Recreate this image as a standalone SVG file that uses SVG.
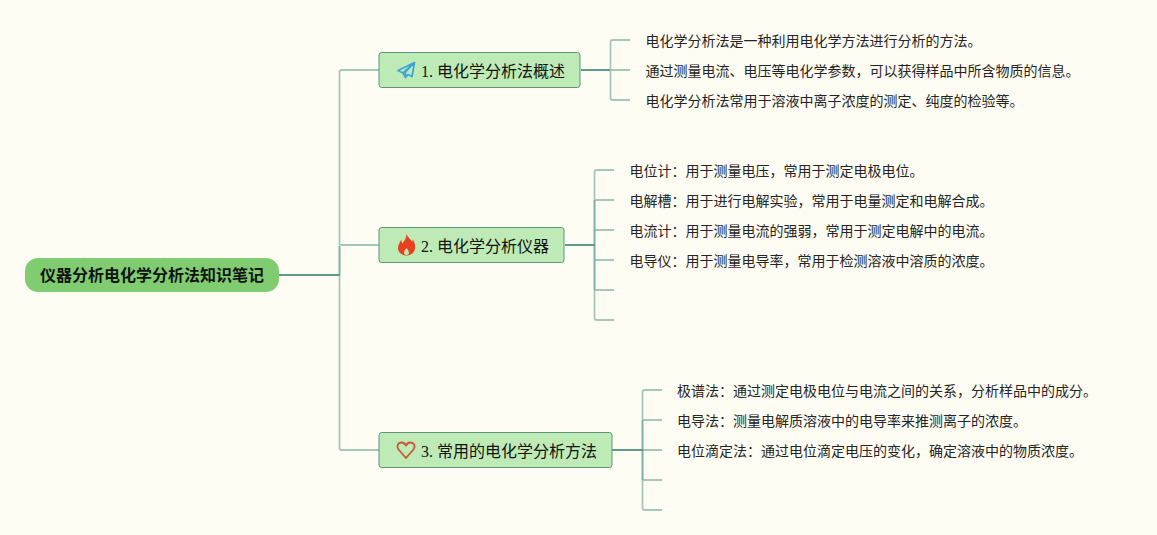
<svg xmlns="http://www.w3.org/2000/svg" width="1157" height="535" viewBox="0 0 1157 535">
<style>
text{font-family:"Liberation Serif","Noto Sans CJK SC",serif;fill:#111;opacity:.99}
.r{font-size:16px;font-weight:700;font-family:"Liberation Sans","Noto Sans CJK SC",sans-serif}
.b{font-size:16px}
.l{font-size:14px;fill:#222}
.box{fill:#bdeab5;stroke:#5c9580;stroke-width:1}
path.c{fill:none;stroke-linejoin:round}
.d{stroke:#5f9a8f;stroke-width:2}
.m{stroke:#80b0a2;stroke-width:2}
.f{stroke:#a5c7ba;stroke-width:1.800}
</style>
<rect width="1157" height="535" fill="#fffdf3"/>
<g id="connectors">
<path class="c f" d="M339.500 245V72Q339.500 70 342 70H379M339.500 245H379M339.500 275V448Q339.500 450 342 450H379"/>
<path class="c m" d="M339.500 246V275"/>
<path class="c d" d="M279 275H340"/>
<path class="c f" d="M610.500 70V42Q610.500 40 613 40H630M610 70H630M610.500 70V98Q610.500 100 613 100H630"/>
<path class="c d" d="M581 70H610"/>
<path class="c f" d="M594.500 200V172Q594.500 170 597 170H614M594.500 200H614M594.500 230H614M594.500 260H614M594.500 290H614M594.500 290V318Q594.500 320 597 320H614"/>
<path class="c m" d="M594.500 200V290"/>
<path class="c d" d="M565 245H595"/>
<path class="c f" d="M642.500 420V392Q642.500 390 645 390H662M642.500 420H662M642.500 450H662M642.500 480H662M642.500 480V508Q642.500 510 645 510H662"/>
<path class="c m" d="M642.500 420V480"/>
<path class="c d" d="M612 450H643"/>
</g>
<g id="root">
<rect x="25" y="258" width="254" height="34" rx="13" fill="#80cc70"/>
<text class="r" x="40" y="281">仪器分析电化学分析法知识笔记</text>
</g>
<g id="branch1">
<rect class="box" x="379" y="52.500" width="201" height="35" rx="2.500"/>
<path d="M414.500 62.500L398 70.500L403 73L405.500 77.500L408 74.500L412 76.500ZM414.500 62.500L403 73M414.500 62.500L405.500 72L405.500 77.500" fill="none" stroke="#3aa5d8" stroke-width="1.700" stroke-linejoin="round"/>
<text class="b" x="421" y="76.500">1. 电化学分析法概述</text>
</g>
<g id="branch2">
<rect class="box" x="379" y="227.500" width="185" height="35" rx="2.500"/>
<path d="M406.500 234C408 238 410.500 238.500 412 242C412.700 241 412.800 240 412.500 239C414.500 242 415.500 245 415 248.500C414.500 252.500 411 255.500 406.500 255.500C402 255.500 398 252.500 398 248C398 244.500 400 242.500 401 240C401.800 241.500 402 242.500 402.200 243.500C404.500 241 406.500 238 406.500 234ZM406.500 248C405.300 249.500 404 251 404 252.700C404 254 405 255 406.500 255C408 255 409 254 409 252.700C409 251 407.700 249.500 406.500 248Z" fill="#e8401f" fill-rule="evenodd"/>
<text class="b" x="421" y="251.500">2. 电化学分析仪器</text>
</g>
<g id="branch3">
<rect class="box" x="379" y="432.500" width="233" height="35" rx="2.500"/>
<path d="M406 458L398.500 449.500C396 446 398 442.500 401.500 442.500C403.500 442.500 405 443.500 406 445.500C407 443.500 408.500 442.500 410.500 442.500C414 442.500 416 446 413.500 449.500Z" fill="none" stroke="#c9553a" stroke-width="1.800" stroke-linejoin="round"/>
<text class="b" x="421" y="456.500">3. 常用的电化学分析方法</text>
</g>
<g id="leaf-1-1"><text class="l" x="645.500" y="46">电化学分析法是一种利用电化学方法进行分析的方法。</text></g>
<g id="leaf-1-2"><text class="l" x="645.500" y="76">通过测量电流、电压等电化学参数，可以获得样品中所含物质的信息。</text></g>
<g id="leaf-1-3"><text class="l" x="645.500" y="106">电化学分析法常用于溶液中离子浓度的测定、纯度的检验等。</text></g>
<g id="leaf-2-1"><text class="l" x="629.500" y="176">电位计：用于测量电压，常用于测定电极电位。</text></g>
<g id="leaf-2-2"><text class="l" x="629.500" y="206">电解槽：用于进行电解实验，常用于电量测定和电解合成。</text></g>
<g id="leaf-2-3"><text class="l" x="629.500" y="236">电流计：用于测量电流的强弱，常用于测定电解中的电流。</text></g>
<g id="leaf-2-4"><text class="l" x="629.500" y="266">电导仪：用于测量电导率，常用于检测溶液中溶质的浓度。</text></g>
<g id="leaf-3-1"><text class="l" x="677" y="396">极谱法：通过测定电极电位与电流之间的关系，分析样品中的成分。</text></g>
<g id="leaf-3-2"><text class="l" x="677" y="426">电导法：测量电解质溶液中的电导率来推测离子的浓度。</text></g>
<g id="leaf-3-3"><text class="l" x="677" y="456">电位滴定法：通过电位滴定电压的变化，确定溶液中的物质浓度。</text></g>
</svg>
